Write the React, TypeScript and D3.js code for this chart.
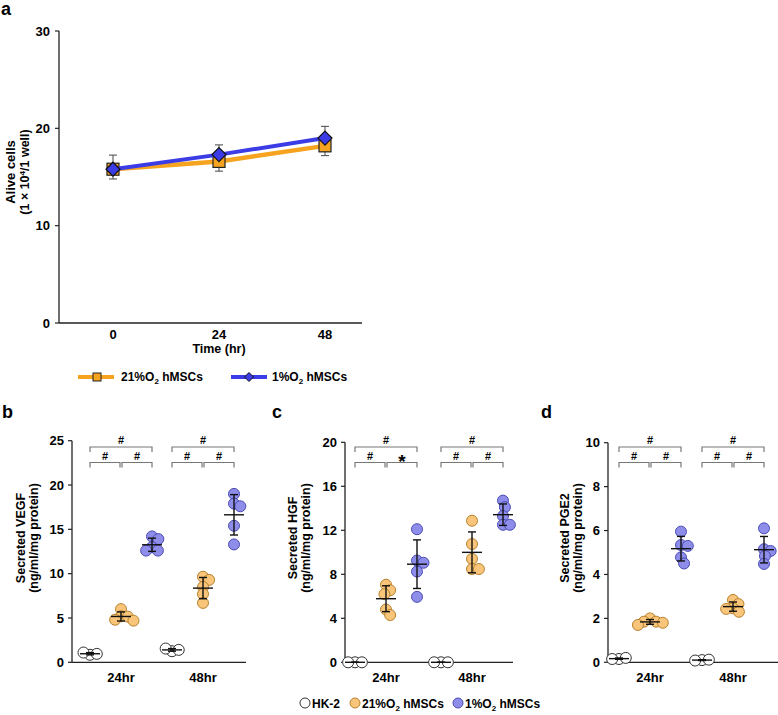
import * as d3 from "d3";

// panel a: alive cells over time
const timePoints = [0, 24, 48];
const aliveNormoxia = [15.8, 16.6, 18.2];
const aliveNormoxiaErr = [1.0, 1.0, 1.0];
const aliveHypoxia = [15.8, 17.3, 19.0];
const aliveHypoxiaErr = [1.45, 1.0, 1.2];

// panels b-d: secreted factors, [24hr, 48hr]
const groupNames = ["24hr", "48hr"];
const seriesKeys = ["hk2", "normoxia", "hypoxia"];

const vegfHK2 = [[0.85, 0.95, 1.1], [1.25, 1.4, 1.55]];
const vegfNormoxia = [[6.0, 5.2, 5.15, 4.8, 4.7], [9.65, 9.3, 8.5, 7.7, 6.7]];
const vegfHypoxia = [[14.2, 13.9, 13.0, 12.6, 12.6], [19.0, 17.9, 17.6, 15.4, 13.3]];
const vegfSig = [["#", "#", "#"], ["#", "#", "#"]];

const hgfHK2 = [[0, 0, 0], [0, 0, 0]];
const hgfNormoxia = [[7.05, 6.55, 6.2, 4.8, 4.3], [12.87, 10.75, 9.4, 8.48, 8.48]];
const hgfHypoxia = [[12.1, 9.25, 9.05, 8.25, 5.95], [14.7, 14.1, 13.3, 12.5, 12.5]];
const hgfSig = [["#", "#", "*"], ["#", "#", "#"]];

const pge2HK2 = [[0.15, 0.2, 0.15], [0.1, 0.12, 0.08]];
const pge2Normoxia = [[2.0, 1.85, 1.85, 1.8, 1.7], [2.84, 2.65, 2.46, 2.43, 2.3]];
const pge2Hypoxia = [[5.95, 5.34, 5.3, 4.78, 4.5], [6.1, 5.15, 5.07, 4.84, 4.48]];
const pge2Sig = [["#", "#", "#"], ["#", "#", "#"]];

const FONT = "'Liberation Sans', Arial, sans-serif";
const orangeLine = "#F6A320";
const blueLine = "#3C3CE6";
const dotFill = ["#ffffff", "#F8C57A", "#8E8EEA"];
const dotStroke = ["#333333", "#B8822E", "#4B4BB5"];
const R = 5.5;

// simple beeswarm: put each dot at the smallest offset that keeps its distance
function swarm(ys: number[], minDist: number) {
  const placed: { x: number; y: number }[] = [];
  ys.forEach((y) => {
    const cands = [0];
    placed.forEach((q) => {
      const dy = y - q.y;
      if (Math.abs(dy) < minDist) {
        const dx = Math.sqrt(minDist * minDist - dy * dy);
        cands.push(q.x + dx, q.x - dx);
      }
    });
    cands.sort((a, b) => Math.abs(a) - Math.abs(b));
    const x = cands.find((c) =>
      placed.every((q) => Math.hypot(c - q.x, y - q.y) >= minDist - 0.01)
    );
    placed.push({ x: x ?? 0, y });
  });
  return placed;
}

const O2 = (pre: string) => (
  <>
    {pre}O<tspan dy={3} fontSize={8}>2</tspan>
    <tspan dy={-3}> hMSCs</tspan>
  </>
);

const GrowthPanel = () => {
  const x = d3.scaleLinear().domain([0, 48]).range([113, 325]);
  const y = d3.scaleLinear().domain([0, 30]).range([323, 31]);
  const line = d3
    .line<number>()
    .x((_, i) => x(timePoints[i]))
    .y((d) => y(d));
  return (
    <g>
      <text x={1} y={15} fontSize={18} fontWeight="bold">a</text>
      <line x1={59} x2={59} y1={y(30)} y2={y(0)} stroke="#222" strokeWidth={1.3} />
      <line x1={59} x2={362} y1={y(0)} y2={y(0)} stroke="#222" strokeWidth={1.3} />
      {y.ticks(3).map((t) => (
        <g key={t} transform={`translate(59,${y(t)})`}>
          <line x1={-4} x2={0} stroke="#222" strokeWidth={1.2} />
          <text x={-9} dy="0.35em" textAnchor="end" fontSize={13} fontWeight="bold">
            {t}
          </text>
        </g>
      ))}
      {timePoints.map((t) => (
        <text key={t} x={x(t)} y={339} textAnchor="middle" fontSize={13} fontWeight="bold">
          {t}
        </text>
      ))}
      <text x={x(24)} y={353} textAnchor="middle" fontSize={12.5} fontWeight="bold">
        Time (hr)
      </text>
      <g transform="translate(15,172) rotate(-90)">
        <text textAnchor="middle" fontSize={13} fontWeight="bold">Alive  cells</text>
      </g>
      <g transform="translate(29,172) rotate(-90)">
        <text textAnchor="middle" fontSize={12.5} fontWeight="bold">
          (1 × 10<tspan dy={-4} fontSize={8}>4</tspan>
          <tspan dy={4}>/1 well)</tspan>
        </text>
      </g>
      {/* error bars */}
      {timePoints.map((t, i) => (
        <g key={"e" + t} stroke="#555" strokeWidth={1.1}>
          <line x1={x(t)} x2={x(t)} y1={y(aliveNormoxia[i])} y2={y(aliveNormoxia[i] - aliveNormoxiaErr[i])} />
          <line x1={x(t) - 4} x2={x(t) + 4} y1={y(aliveNormoxia[i] - aliveNormoxiaErr[i])} y2={y(aliveNormoxia[i] - aliveNormoxiaErr[i])} />
          <line x1={x(t)} x2={x(t)} y1={y(aliveHypoxia[i])} y2={y(aliveHypoxia[i] + aliveHypoxiaErr[i])} />
          <line x1={x(t) - 4} x2={x(t) + 4} y1={y(aliveHypoxia[i] + aliveHypoxiaErr[i])} y2={y(aliveHypoxia[i] + aliveHypoxiaErr[i])} />
        </g>
      ))}
      <path d={line(aliveNormoxia) ?? ""} fill="none" stroke={orangeLine} strokeWidth={4.5} />
      {aliveNormoxia.map((v, i) => (
        <rect key={"s" + i} x={x(timePoints[i]) - 6} y={y(v) - 6} width={12} height={12} fill={orangeLine} stroke="#222" strokeWidth={1.2} />
      ))}
      <path d={line(aliveHypoxia) ?? ""} fill="none" stroke={blueLine} strokeWidth={4} />
      {aliveHypoxia.map((v, i) => (
        <path key={"d" + i} transform={`translate(${x(timePoints[i])},${y(v)})`} d="M0,-7L7,0L0,7L-7,0Z" fill={blueLine} stroke="#111" strokeWidth={1.2} />
      ))}
      {/* legend */}
      <line x1={78} x2={114} y1={377} y2={377} stroke={orangeLine} strokeWidth={4} />
      <rect x={93} y={373} width={8} height={8} fill={orangeLine} stroke="#222" strokeWidth={1} />
      <text x={121} y={381} fontSize={12} fontWeight="bold">{O2("21%")}</text>
      <line x1={231} x2={267} y1={377} y2={377} stroke={blueLine} strokeWidth={4} />
      <path transform="translate(249,377)" d="M0,-4.5L4.5,0L0,4.5L-4.5,0Z" fill={blueLine} stroke="#111" strokeWidth={1} />
      <text x={272} y={381} fontSize={12} fontWeight="bold">{O2("1%")}</text>
    </g>
  );
};

type PanelProps = {
  letter: string;
  letterX: number;
  title: string;
  labelX: [number, number];
  axisX: number;
  axisEnd: number;
  groupRange: [number, number];
  yMax: number;
  yTop: number;
  tickStep: number;
  hk2: number[][];
  normoxia: number[][];
  hypoxia: number[][];
  sig: string[][];
};

const DotPanel = (p: PanelProps) => {
  const y = d3.scaleLinear().domain([0, p.yMax]).range([662.3, p.yTop]);
  const gx = d3.scalePoint<string>().domain(groupNames).range(p.groupRange);
  const sx = d3.scalePoint<string>().domain(seriesKeys).range([-31, 31]);
  const ticks = d3.range(0, p.yMax + 0.001, p.tickStep);
  const data = [p.hk2, p.normoxia, p.hypoxia];
  const midY = 538;
  return (
    <g>
      <text x={p.letterX} y={418} fontSize={18} fontWeight="bold">{p.letter}</text>
      <line x1={p.axisX} x2={p.axisX} y1={p.yTop} y2={y(0)} stroke="#222" strokeWidth={1.3} />
      <line x1={p.axisX} x2={p.axisEnd} y1={y(0)} y2={y(0)} stroke="#222" strokeWidth={1.3} />
      {ticks.map((t) => (
        <g key={t} transform={`translate(${p.axisX},${y(t)})`}>
          <line x1={-4} x2={0} stroke="#222" strokeWidth={1.2} />
          <text x={-8} dy="0.35em" textAnchor="end" fontSize={13} fontWeight="bold">{t}</text>
        </g>
      ))}
      {groupNames.map((g) => (
        <text key={g} x={gx(g)} y={682} textAnchor="middle" fontSize={13} fontWeight="bold">{g}</text>
      ))}
      <g transform={`translate(${p.labelX[0]},${midY}) rotate(-90)`}>
        <text textAnchor="middle" fontSize={12.5} fontWeight="bold">{p.title}</text>
      </g>
      <g transform={`translate(${p.labelX[1]},${midY}) rotate(-90)`}>
        <text textAnchor="middle" fontSize={12.5} fontWeight="bold">(ng/ml/mg protein)</text>
      </g>
      {groupNames.map((g, gi) => {
        const x0 = (gx(g) ?? 0) + (sx("hk2") ?? 0);
        const x1 = (gx(g) ?? 0) + (sx("normoxia") ?? 0);
        const x2 = (gx(g) ?? 0) + (sx("hypoxia") ?? 0);
        const br = (a: number, b: number, yy: number, lab: string, k: string) => (
          <g key={k}>
            <path d={`M${a},${yy + 5}V${yy}H${b}V${yy + 5}`} fill="none" stroke="#777" strokeWidth={1.2} />
            <text x={(a + b) / 2} y={yy - 3} textAnchor="middle" fontSize={lab === "*" ? 19 : 11} fontWeight="bold" dy={lab === "*" ? 8 : 0}>
              {lab}
            </text>
          </g>
        );
        return (
          <g key={"br" + g}>
            {br(x0, x2, 447, p.sig[gi][0], "t")}
            {br(x0, x1 - 1, 462.5, p.sig[gi][1], "l")}
            {br(x1 + 1, x2, 462.5, p.sig[gi][2], "r")}
          </g>
        );
      })}
      {groupNames.map((g, gi) =>
        seriesKeys.map((s, si) => {
          const vals = data[si][gi];
          const cx = (gx(g) ?? 0) + (sx(s) ?? 0);
          const pts = swarm(vals.map((v) => y(v)), R * 1.25);
          const m = d3.mean(vals) ?? 0;
          const sd = d3.deviation(vals) ?? 0;
          return (
            <g key={g + s}>
              {pts.map((pt, i) => (
                <circle key={i} cx={cx + pt.x} cy={pt.y} r={R} fill={dotFill[si]} stroke={dotStroke[si]} strokeWidth={1} />
              ))}
              <g stroke="#111" strokeWidth={1.4}>
                <line x1={cx - 10} x2={cx + 10} y1={y(m)} y2={y(m)} />
                <line x1={cx} x2={cx} y1={y(m + sd)} y2={y(Math.max(0, m - sd))} />
                <line x1={cx - 4} x2={cx + 4} y1={y(m + sd)} y2={y(m + sd)} />
                <line x1={cx - 4} x2={cx + 4} y1={y(Math.max(0, m - sd))} y2={y(Math.max(0, m - sd))} />
              </g>
            </g>
          );
        })
      )}
    </g>
  );
};

export default function App() {
  return (
    <div style={{ position: "absolute", left: 0, top: 0 }}>
      <svg width={778} height={715} style={{ display: "block", fontFamily: FONT }}>
        <rect width={778} height={715} fill="#fff" />
        <GrowthPanel />
        <DotPanel letter="b" letterX={2} title="Secreted VEGF" labelX={[24.5, 38]} axisX={72} axisEnd={246}
          groupRange={[121, 203]} yMax={25} yTop={440.7} tickStep={5}
          hk2={vegfHK2} normoxia={vegfNormoxia} hypoxia={vegfHypoxia} sig={vegfSig} />
        <DotPanel letter="c" letterX={272} title="Secreted HGF" labelX={[297, 310]} axisX={345} axisEnd={513}
          groupRange={[386, 472]} yMax={20} yTop={442.3} tickStep={4}
          hk2={hgfHK2} normoxia={hgfNormoxia} hypoxia={hgfHypoxia} sig={hgfSig} />
        <DotPanel letter="d" letterX={541} title="Secreted PGE2" labelX={[569, 581.5]} axisX={608} axisEnd={778}
          groupRange={[650, 733]} yMax={10} yTop={442.7} tickStep={2}
          hk2={pge2HK2} normoxia={pge2Normoxia} hypoxia={pge2Hypoxia} sig={pge2Sig} />
        {/* bottom legend */}
        <g fontSize={12} fontWeight="bold">
          <circle cx={305} cy={703} r={5} fill={dotFill[0]} stroke={dotStroke[0]} />
          <text x={312} y={707.5}>HK-2</text>
          <circle cx={355} cy={703} r={5} fill={dotFill[1]} stroke={dotStroke[1]} />
          <text x={362} y={707.5}>{O2("21%")}</text>
          <circle cx={458} cy={703} r={5} fill={dotFill[2]} stroke={dotStroke[2]} />
          <text x={465} y={707.5}>{O2("1%")}</text>
        </g>
      </svg>
    </div>
  );
}
